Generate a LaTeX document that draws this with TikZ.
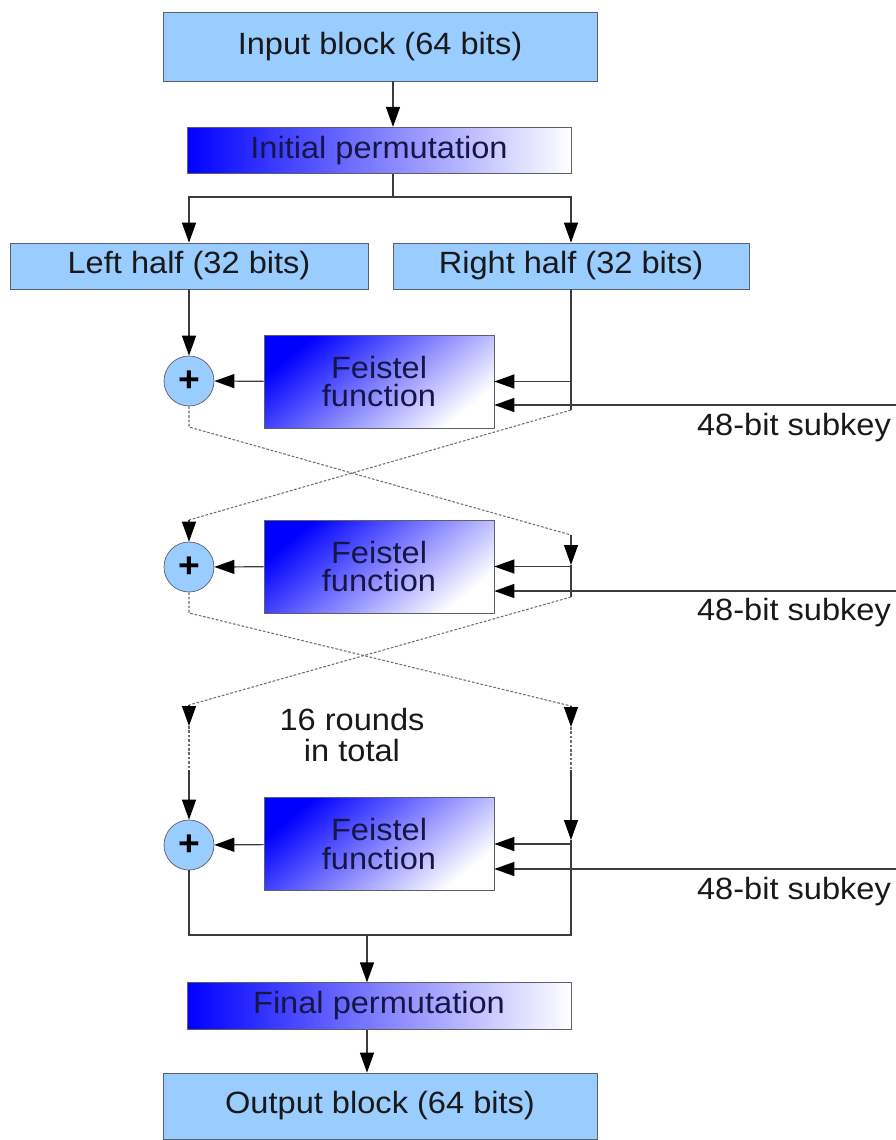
\documentclass[tikz,border=0pt]{standalone}
\usepackage{fontspec}
\setmainfont{Liberation Sans}[FakeStretch=1.06]
\usetikzlibrary{calc,arrows.meta,positioning}

\definecolor{boxblue}{RGB}{153,204,255}
\definecolor{edgegray}{RGB}{95,95,105}
\definecolor{inknavy}{RGB}{22,22,70}
\definecolor{wiregray}{RGB}{60,60,60}

\tikzset{
  plainbox/.style={draw=edgegray, fill=boxblue, text=black!90, inner sep=0pt,
    font=\fontsize{17.5}{20}\selectfont},
  permbox/.style={draw=edgegray, left color=blue, right color=white,
    text=inknavy, inner sep=0pt, minimum width=7.68cm, minimum height=0.93cm,
    font=\fontsize{17.5}{20}\selectfont},
  feistbox/.style={draw=edgegray, top color=blue, bottom color=white,
    shading angle=40, text=inknavy, align=center, inner sep=0pt,
    minimum width=4.6cm, minimum height=1.86cm,
    font=\fontsize{17.5}{16}\selectfont},
  xorcirc/.style={circle, draw=edgegray, fill=boxblue, minimum size=1cm,
    inner sep=0pt, font=\fontsize{20}{20}\selectfont\bfseries},
  wire/.style={draw=wiregray, line width=0.7pt,
    -{Triangle[length=0.4cm,width=0.28cm,black]}},
  bare/.style={draw=wiregray, line width=0.7pt},
  swapline/.style={draw=gray!85!black, line width=0.6pt,
    dash pattern=on 1.5pt off 1pt},
  keytext/.style={font=\fontsize{17.5}{18}\selectfont, text=black!90}
}

\begin{document}
\begin{tikzpicture}[x=0.02cm, y=-0.02cm]
  \useasboundingbox (0,0) rectangle (896,1140);

  % blocks
  \node[plainbox, minimum width=8.68cm, minimum height=1.38cm] (inblk) at (380,46.5) {Input block (64 bits)};
  \node[permbox] (initp) at (379,150.5) {Initial permutation};
  \node[plainbox, minimum width=7.16cm, minimum height=0.92cm] (lhalf) at (189,266) {Left half (32 bits)};
  \node[plainbox, minimum width=7.12cm, minimum height=0.92cm] (rhalf) at (571,266) {Right half (32 bits)};

  % round blocks
  \node[feistbox] (feist1) at (379,381.5) {Feistel\\function};
  \node[feistbox] (feist2) at (379,566.5) {Feistel\\function};
  \node[feistbox] (feist3) at (379,844) {Feistel\\function};
  \node[xorcirc] (xor1) at (189,381) {+};
  \node[xorcirc] (xor2) at (189,567) {+};
  \node[xorcirc] (xor3) at (189,845) {+};

  \node[permbox] (finp) at (379,1006) {Final permutation};
  \node[plainbox, minimum width=8.68cm, minimum height=1.32cm] (outblk) at (380,1106) {Output block (64 bits)};

  \node[keytext, align=center] (rounds) at (352,735) {16 rounds\\in total};

  % helper points
  \coordinate (ipx) at (393,0);
  \coordinate (fpx) at (367,0);
  \coordinate (r1b) at (571,410);
  \coordinate (l1b) at (189,427);
  \coordinate (r2t) at (571,535);
  \coordinate (l2t) at (189,520);
  \coordinate (r2m) at (571,565);
  \coordinate (r2b) at (571,597);
  \coordinate (l2b) at (189,613);
  \coordinate (r3t) at (571,706);
  \coordinate (l3t) at (189,705);
  \coordinate (r3m) at (571,727);
  \coordinate (l3m) at (189,726);
  \coordinate (r3d) at (571,770);
  \coordinate (l3d) at (189,770);
  \coordinate (r3e) at (571,840);
  \coordinate (rbot) at (571,935);
  \coordinate (lbot) at (189,935);
  \coordinate (key1) at (896,405);
  \coordinate (key2) at (896,591);
  \coordinate (key3) at (896,869);

  % top part
  \draw[wire] (inblk.south -| ipx) -- (initp.north -| ipx);
  \draw[wire] (initp.south -| ipx) -- ++(0,23) -| (lhalf.north);
  \draw[wire] (initp.south -| ipx) -- ++(0,23) -| (rhalf.north);

  % round 1
  \draw[wire] (lhalf.south) -- (xor1);
  \draw[wire] (feist1) -- (xor1);
  \draw[bare] (rhalf.south) -- (r1b);
  \draw[wire] (rhalf.south |- feist1.east) -- (feist1.east);
  \draw[wire] (key1) -- (key1 -| feist1.east);
  \node[keytext] (sub1) at (794,428) {48-bit subkey};

  % swap 1
  \draw[swapline] (xor1.south) -- (l1b) -- (r2t);
  \draw[swapline] (r1b) -- (l2t);

  % round 2
  \draw[wire] (l2t) -- (xor2);
  \draw[wire] (r2t) -- (r2m);
  \draw[bare] (r2m) -- (r2b);
  \draw[wire] (feist2) -- (xor2);
  \draw[wire] (r2m |- feist2.east) -- (feist2.east);
  \draw[wire] (key2) -- (key2 -| feist2.east);
  \node[keytext] (sub2) at (794,613) {48-bit subkey};

  % swap 2
  \draw[swapline] (xor2.south) -- (l2b) -- (r3t);
  \draw[swapline] (r2b) -- (l3t);

  % round 16
  \draw[wire] (l3t) -- (l3m);
  \draw[wire] (r3t) -- (r3m);
  \draw[swapline] (l3m) -- (l3d);
  \draw[swapline] (r3m) -- (r3d);
  \draw[wire] (l3d) -- (xor3);
  \draw[wire] (r3d) -- (r3e);
  \draw[wire] (feist3) -- (xor3);
  \draw[wire] (r3e |- feist3.east) -- (feist3.east);
  \draw[wire] (key3) -- (key3 -| feist3.east);
  \node[keytext] (sub3) at (794,892) {48-bit subkey};

  % join and output
  \draw[bare] (r3e) -- (rbot) -- (lbot) -- (xor3.south);
  \draw[wire] (fpx |- lbot) -- (fpx |- finp.north);
  \draw[wire] (fpx |- finp.south) -- (fpx |- outblk.north);
\end{tikzpicture}
\end{document}
